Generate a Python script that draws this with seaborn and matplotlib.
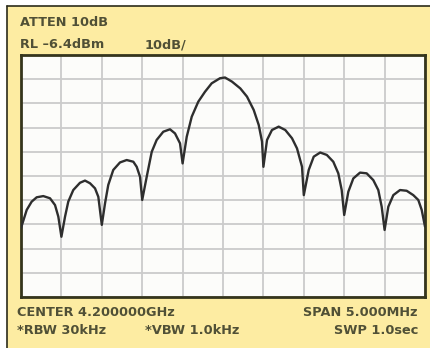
import matplotlib
matplotlib.use("Agg")
import matplotlib.pyplot as plt
import seaborn as sns
import pandas as pd
from matplotlib.patches import Rectangle
from matplotlib.lines import Line2D

# Frequency offset from center (MHz) and level (dBm)
freq_offset = [-2.500, -2.429, -2.368, -2.306, -2.224, -2.141, -2.079, -2.038, -2.000,
               -1.955, -1.915, -1.853, -1.770, -1.708, -1.646, -1.584, -1.543, -1.500,
               -1.460, -1.420, -1.358, -1.275, -1.192, -1.110, -1.068, -1.027, -1.000,
               -0.944, -0.882, -0.821, -0.739, -0.656, -0.594, -0.532, -0.500,
               -0.449, -0.387, -0.306, -0.223, -0.140, -0.037, 0.025, 0.111, 0.214,
               0.297, 0.380, 0.442, 0.483, 0.500,
               0.545, 0.606, 0.689, 0.771, 0.854, 0.916, 0.978, 1.000,
               1.061, 1.123, 1.203, 1.285, 1.365, 1.427, 1.469, 1.500,
               1.551, 1.613, 1.696, 1.778, 1.860, 1.922, 1.964, 2.000,
               2.046, 2.108, 2.191, 2.273, 2.355, 2.417, 2.459, 2.500]
level_dbm = [-77.9, -70.4, -67.0, -65.2, -64.7, -65.6, -68.4, -73.2, -81.5,
             -73.2, -67.0, -62.2, -59.2, -58.3, -59.4, -61.5, -65.0, -76.6,
             -67.7, -60.1, -53.9, -50.8, -49.8, -50.5, -52.6, -56.7, -66.3,
             -56.7, -46.4, -41.5, -38.1, -37.1, -38.8, -42.9, -51.2,
             -40.2, -31.9, -25.7, -21.6, -18.1, -16.0, -15.7, -17.4, -20.2,
             -23.6, -29.1, -35.3, -42.2, -52.6,
             -41.5, -37.4, -36.0, -37.4, -40.8, -45.0, -52.6, -64.3,
             -53.9, -48.4, -46.7, -47.7, -50.5, -55.3, -62.2, -72.5,
             -62.9, -57.4, -55.0, -55.3, -58.1, -62.2, -69.1, -78.7,
             -69.1, -64.3, -62.2, -62.5, -64.3, -66.3, -70.4, -77.3]

ref_level = -6.4
db_per_div = 10
span_mhz = 5.0

top_labels = ["ATTEN 10dB", "RL \u20136.4dBm", "10dB/"]
bottom_labels = ["CENTER 4.200000GHz", "SPAN 5.000MHz", "*RBW 30kHz", "*VBW 1.0kHz", "SWP 1.0sec"]

df = pd.DataFrame({"f": freq_offset, "L": level_dbm})

sns.set_style("white")
plt.rcParams['font.family'] = ['DejaVu Sans']

W, H = 431, 348
fig = plt.figure(figsize=(W / 100, H / 100), dpi=100)
fig.patch.set_facecolor("white")

bg = "#FDECA2"
fig.add_artist(Rectangle((7 / W, 0), 1 - 7 / W, 1 - 6 / H, transform=fig.transFigure,
                         facecolor=bg, edgecolor="none", zorder=0))
fig.add_artist(Line2D([7 / W, 7 / W], [0, 1 - 6 / H], transform=fig.transFigure,
                      color="#2b2b1a", lw=1.2))
fig.add_artist(Line2D([7 / W, 1], [1 - 6 / H, 1 - 6 / H], transform=fig.transFigure,
                      color="#2b2b1a", lw=1.2))

ax = fig.add_axes([21 / W, 1 - 297 / H, (425 - 21) / W, (297 - 55) / H])
ax.set_facecolor("#FCFCFA")

sns.lineplot(data=df, x="f", y="L", ax=ax, sort=False, estimator=None,
             color="#2e2e2e", lw=1.7, zorder=3)

ax.set_xlim(-span_mhz / 2, span_mhz / 2)
ax.set_ylim(ref_level - 10 * db_per_div, ref_level)
ax.set_xticks([-span_mhz / 2 + i * span_mhz / 10 for i in range(11)])
ax.set_yticks([ref_level - i * db_per_div for i in range(11)])
ax.grid(True, color="#CBCBCB", lw=1.3, zorder=1)
ax.tick_params(length=0, labelbottom=False, labelleft=False)
ax.set_xlabel("")
ax.set_ylabel("")
for s in ax.spines.values():
    s.set_color("#35351c")
    s.set_linewidth(2.0)

tc = "#505036"
fs = 9.3
kw = dict(fontsize=fs, color=tc, fontweight="bold", va="center", transform=fig.transFigure)
fig.text(20 / W, 1 - 23 / H, top_labels[0], ha="left", **kw)
fig.text(20 / W, 1 - 45 / H, top_labels[1], ha="left", **kw)
fig.text(145 / W, 1 - 45 / H, top_labels[2], ha="left", **kw)
fig.text(17 / W, 1 - 312 / H, bottom_labels[0], ha="left", **kw)
fig.text(418 / W, 1 - 312 / H, bottom_labels[1], ha="right", **kw)
fig.text(17 / W, 1 - 331 / H, bottom_labels[2], ha="left", **kw)
fig.text(145 / W, 1 - 331 / H, bottom_labels[3], ha="left", **kw)
fig.text(418 / W, 1 - 331 / H, bottom_labels[4], ha="right", **kw)

fig.savefig("out.png", dpi=100)
